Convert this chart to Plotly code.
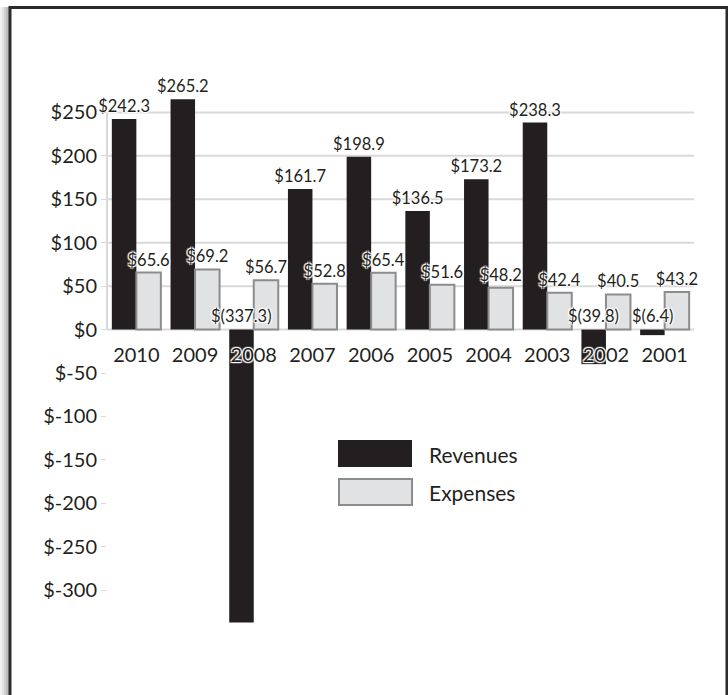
import plotly.graph_objects as go

# Annual figures, in $ millions
years = ["2010", "2009", "2008", "2007", "2006", "2005", "2004", "2003", "2002", "2001"]
revenues = [242.3, 265.2, -337.3, 161.7, 198.9, 136.5, 173.2, 238.3, -39.8, -6.4]
expenses = [65.6, 69.2, 56.7, 52.8, 65.4, 51.6, 48.2, 42.4, 40.5, 43.2]
series_names = ["Revenues", "Expenses"]
y_ticks = [250, 200, 150, 100, 50, 0, -50, -100, -150, -200, -250, -300]

INK = "#231f20"
GRID = "#d9d9d9"
FONT = "Lato, Carlito, 'Open Sans', sans-serif"
HALO = "1px 1px 1px white, -1px -1px 1px white, 1px -1px 1px white, -1px 1px 1px white, 0 0 2px white"
Y_RANGE = [-400, 300]
BARGAP = 0.165
LABEL_SIZE = 16.5


def money(v):
    return f"${v:.1f}" if v >= 0 else f"$({abs(v):.1f})"


fig = go.Figure()

fig.add_trace(go.Bar(
    x=years, y=revenues, name=series_names[0],
    marker=dict(color=INK, line=dict(width=0)),
    text=[money(v) if v >= 0 else "" for v in revenues],
    textposition="outside", constraintext="none", cliponaxis=False,
    textfont=dict(family=FONT, size=LABEL_SIZE, color=INK, shadow=HALO),
    showlegend=False,
))
fig.add_trace(go.Bar(
    x=years, y=expenses, name=series_names[1],
    marker=dict(color="#e1e2e4", line=dict(color="#8c8c8c", width=2)),
    text=[money(v) for v in expenses],
    textposition="outside", constraintext="none", cliponaxis=False,
    textfont=dict(family=FONT, size=LABEL_SIZE, color=INK, shadow=HALO),
    showlegend=False,
))

# negative revenue labels sit just above the zero line, over their bar
bar_w = (1 - BARGAP) / 2
for i, v in enumerate(revenues):
    if v < 0:
        fig.add_annotation(
            x=i - bar_w / 2, y=0, xref="x", yref="y", text=money(v),
            showarrow=False, yanchor="bottom", yshift=2,
            font=dict(family=FONT, size=LABEL_SIZE, color=INK, shadow=HALO),
        )

shapes = []
# horizontal gridlines on the positive half only, plus the left edge
for t in y_ticks:
    if t >= 0:
        shapes.append(dict(type="line", xref="paper", yref="y", x0=0, x1=1, y0=t, y1=t,
                           line=dict(color=GRID, width=2), layer="below"))
shapes.append(dict(type="line", xref="paper", yref="y", x0=0, x1=0, y0=0, y1=max(y_ticks),
                   line=dict(color=GRID, width=2), layer="below"))

# page frame with a soft shadow on the left
L, R, T, B = 107, 694, 69, 677
px = lambda p: (p - L) / (R - L)
py = lambda p: (B - p) / (B - T)
for k, c in enumerate(["#f2f2f2", "#e4e4e4", "#d2d2d2", "#bdbdbd"]):
    shapes.append(dict(type="rect", xref="paper", yref="paper",
                       x0=px(0 + 2 * k), x1=px(9), y0=py(720), y1=py(7),
                       fillcolor=c, line=dict(width=0), layer="below"))
shapes.append(dict(type="rect", xref="paper", yref="paper",
                   x0=px(10), x1=px(727), y0=py(720), y1=py(7.5),
                   fillcolor="rgba(0,0,0,0)", line=dict(color="#2b2b2b", width=3), layer="above"))

# legend swatches
shapes.append(dict(type="rect", xref="paper", yref="paper",
                   x0=px(338), x1=px(412), y0=py(467), y1=py(440),
                   fillcolor=INK, line=dict(width=0)))
shapes.append(dict(type="rect", xref="paper", yref="paper",
                   x0=px(339), x1=px(412), y0=py(505), y1=py(479),
                   fillcolor="#e1e2e4", line=dict(color="#8c8c8c", width=2)))
for name, yc in zip(series_names, [454, 492]):
    fig.add_annotation(x=px(427), y=py(yc), xref="paper", yref="paper", text=name,
                       showarrow=False, xanchor="left", yanchor="middle",
                       font=dict(family=FONT, size=21, color=INK))

zero_pos = (0 - Y_RANGE[0]) / (Y_RANGE[1] - Y_RANGE[0])

fig.update_layout(
    width=728, height=695,
    margin=dict(l=L, r=728 - R, t=T, b=695 - B),
    paper_bgcolor="white", plot_bgcolor="white",
    barmode="group", bargap=BARGAP, bargroupgap=0,
    shapes=shapes,
    font=dict(family=FONT, color=INK),
    xaxis=dict(type="category", anchor="free", position=zero_pos,
               showline=False, showgrid=False, zeroline=False, ticks="",
               tickfont=dict(family=FONT, size=20, color=INK, shadow=HALO),
               ticklabelstandoff=11),
    yaxis=dict(range=Y_RANGE, tickvals=y_ticks, ticktext=[f"${t}" for t in y_ticks],
               showgrid=False, zeroline=False, showline=False,
               ticks="outside", ticklen=5, tickcolor=GRID, tickwidth=1,
               tickfont=dict(family=FONT, size=20, color=INK)),
)

fig.write_html("out.html")
